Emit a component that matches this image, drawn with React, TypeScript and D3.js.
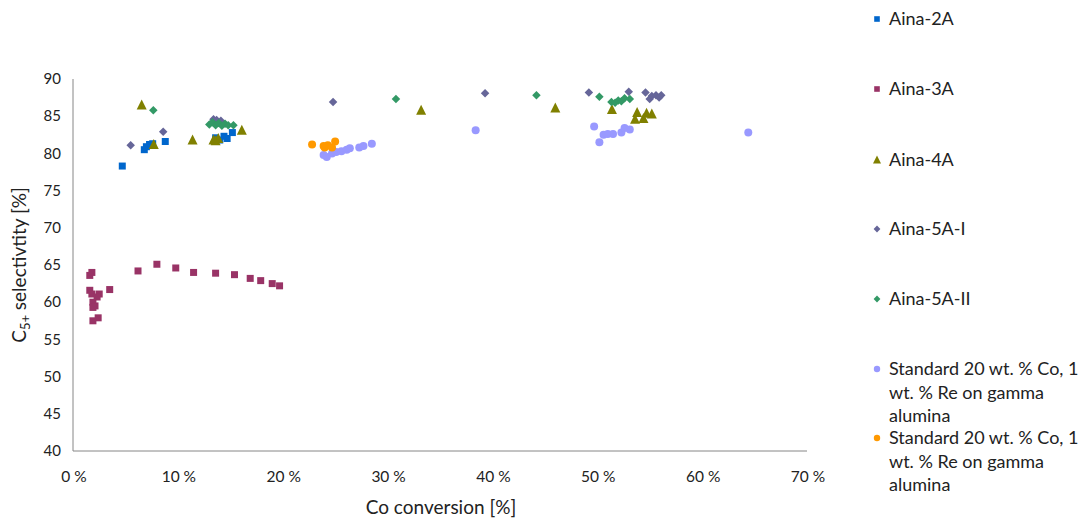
import * as d3 from "d3";

const xTicks = [0, 10, 20, 30, 40, 50, 60, 70];
const yTicks = [40, 45, 50, 55, 60, 65, 70, 75, 80, 85, 90];

const aina2A_x = [4.7, 6.8, 7.0, 7.3, 7.6, 8.8, 13.6, 14.0, 14.4, 14.7, 15.2];
const aina2A_y = [78.3, 80.5, 80.9, 81.2, 81.3, 81.6, 82.1, 81.8, 82.3, 82.0, 82.8];

const aina3A_x = [1.6, 1.8, 1.6, 1.8, 2.5, 2.3, 1.9, 2.1, 1.9, 1.9, 2.4, 3.5, 6.2, 8.0, 9.8, 11.5, 13.6, 15.4, 16.9, 17.9, 19.0, 19.7];
const aina3A_y = [63.6, 64.0, 61.6, 61.1, 61.1, 60.7, 60.0, 59.5, 59.3, 57.5, 57.9, 61.7, 64.2, 65.1, 64.6, 64.0, 63.9, 63.7, 63.2, 62.9, 62.5, 62.2];

const aina4A_x = [6.55, 7.7, 11.4, 13.4, 13.6, 13.85, 16.1, 33.2, 46.0, 51.4, 53.6, 53.8, 54.4, 54.7, 55.2];
const aina4A_y = [86.5, 81.2, 81.8, 81.8, 81.7, 82.0, 83.1, 85.8, 86.1, 85.9, 84.6, 85.5, 84.7, 85.4, 85.3];

const aina5AI_x = [5.5, 8.6, 13.4, 13.7, 14.1, 24.8, 39.3, 49.2, 53.0, 54.6, 55.0, 55.2, 55.6, 55.9, 56.1];
const aina5AI_y = [81.1, 82.9, 84.6, 84.5, 84.4, 86.9, 88.1, 88.2, 88.3, 88.2, 87.3, 87.7, 87.8, 87.5, 87.8];

const aina5AII_x = [7.66, 13.0, 13.3, 13.6, 13.9, 14.2, 14.5, 14.8, 15.3, 30.8, 44.2, 50.2, 51.35, 51.7, 52.0, 52.3, 52.6, 53.1];
const aina5AII_y = [85.8, 83.9, 84.2, 83.8, 84.1, 83.7, 84.0, 83.8, 83.8, 87.3, 87.8, 87.6, 86.9, 86.8, 87.1, 87.0, 87.4, 87.3];

const std1_x = [23.9, 24.2, 24.7, 25.1, 25.6, 26.1, 26.4, 27.3, 27.7, 28.5, 38.4, 49.7, 50.2, 50.6, 51.0, 51.5, 52.3, 52.6, 53.1, 64.4];
const std1_y = [79.8, 79.5, 80.0, 80.2, 80.3, 80.5, 80.7, 80.8, 81.0, 81.3, 83.1, 83.6, 81.5, 82.5, 82.6, 82.6, 82.8, 83.4, 83.2, 82.8];

const std2_x = [22.8, 23.9, 24.0, 24.3, 24.7, 25.0];
const std2_y = [81.2, 81.0, 80.8, 81.1, 80.8, 81.6];

const seriesNames = [
  "Aina-2A",
  "Aina-3A",
  "Aina-4A",
  "Aina-5A-I",
  "Aina-5A-II",
  "Standard 20 wt. % Co, 1 wt. % Re on gamma alumina",
  "Standard 20 wt. % Co, 1 wt. % Re on gamma alumina",
];
const seriesColors = ["#0066CC", "#993366", "#808000", "#666699", "#339966", "#9999FF", "#FF9900"];
const seriesShapes = ["square", "square", "triangle", "diamond", "diamond", "circle", "circle"];
const seriesX = [aina2A_x, aina3A_x, aina4A_x, aina5AI_x, aina5AII_x, std1_x, std2_x];
const seriesY = [aina2A_y, aina3A_y, aina4A_y, aina5AI_y, aina5AII_y, std1_y, std2_y];

const legendLines = [
  ["Aina-2A"],
  ["Aina-3A"],
  ["Aina-4A"],
  ["Aina-5A-I"],
  ["Aina-5A-II"],
  ["Standard 20 wt. % Co, 1", "wt. % Re on gamma", "alumina"],
  ["Standard 20 wt. % Co, 1", "wt. % Re on gamma", "alumina"],
];

const W = 1087;
const H = 521;
const font = "Lato, 'Open Sans', sans-serif";

function markerPath(shape: string, s: number) {
  if (shape === "square") return d3.symbol(d3.symbolSquare, s * s)();
  if (shape === "circle") return d3.symbol(d3.symbolCircle, (Math.PI * s * s) / 4)();
  if (shape === "triangle") {
    const h = s * 0.9;
    return `M0,${-h / 2 - 1}L${s / 2},${h / 2}L${-s / 2},${h / 2}Z`;
  }
  // square diamond
  const r = s / 2;
  return `M0,${-r}L${r},0L0,${r}L${-r},0Z`;
}

const markerSize: Record<string, number> = { square: 7, circle: 8, triangle: 10, diamond: 8.5 };

export default function App() {
  const x = d3.scaleLinear().domain([0, 70]).range([73, 807]);
  const y = d3.scaleLinear().domain([40, 90]).range([451, 79]);
  const legendY = [19, 89, 160, 229, 299, 369, 438];

  return (
    <svg
      width={W}
      height={H}
      style={{ position: "absolute", left: 0, top: 0, background: "#fff" }}
      fontFamily={font}
    >
      <rect width={W} height={H} fill="#fff" />
      {/* axes */}
      <line x1={x(0)} x2={x(0)} y1={y(90)} y2={y(40)} stroke="#868686" strokeWidth={1} />
      <line x1={x(0)} x2={x(70)} y1={y(40)} y2={y(40)} stroke="#868686" strokeWidth={1} />
      {yTicks.map((t) => (
        <text key={t} x={61} y={y(t)} dy="0.35em" textAnchor="end" fontSize={15} fill="#222">
          {t}
        </text>
      ))}
      {xTicks.map((t) => (
        <text key={t} x={x(t) + 1} y={482} textAnchor="middle" fontSize={15.5} fill="#222">
          {t} %
        </text>
      ))}
      <text x={441} y={514} textAnchor="middle" fontSize={19} fill="#222">
        Co conversion [%]
      </text>
      <text transform="translate(26,265) rotate(-90)" textAnchor="middle" fontSize={19} fill="#222">
        C<tspan fontSize={13} dy={4}>5+</tspan>
        <tspan dy={-4}> selectivtity [%]</tspan>
      </text>

      {/* points */}
      {seriesX.map((xs, si) => (
        <g key={si} fill={seriesColors[si]}>
          {xs.map((v, i) => (
            <path
              key={i}
              d={markerPath(seriesShapes[si], markerSize[seriesShapes[si]]) || ""}
              transform={`translate(${x(v)},${y(seriesY[si][i])})`}
            />
          ))}
        </g>
      ))}

      {/* legend */}
      {seriesNames.map((name, si) => (
        <g key={name + si} transform={`translate(877,${legendY[si]})`}>
          <path d={markerPath(seriesShapes[si], markerSize[seriesShapes[si]] * 0.8) || ""} fill={seriesColors[si]} />
          {legendLines[si].map((ln, li) => (
            <text key={li} x={12} y={li * 23.5} dy="0.35em" fontSize={18} fill="#222">
              {ln}
            </text>
          ))}
        </g>
      ))}
    </svg>
  );
}
